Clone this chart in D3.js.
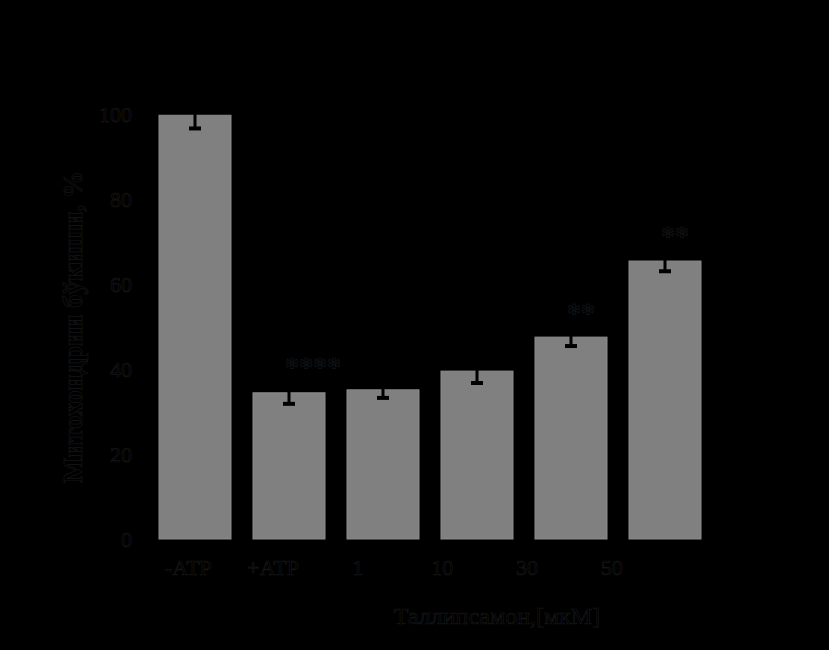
<!DOCTYPE html>
<html>
<head>
    <meta charset="utf-8">
    <title>Mitochondria swelling</title>
</head>

<style>

body {
    margin: 0;
    background: #000;
}

.bar {
    fill: #808080;
    stroke: #8c8c8c;
    stroke-width: 1px;
}

.errbar {
    stroke: #000;
    stroke-width: 3px;
}

.axis text {
    font-family: "Liberation Serif", serif;
    font-size: 22px;
    fill: #000;
    stroke: #161616;
    stroke-width: 0.7px;
}

.axis .domain, .axis line {
    stroke: #000;
}

.title {
    font-family: "Liberation Serif", serif;
    fill: #000;
    stroke: #161616;
    stroke-width: 0.7px;
}

</style>

<body>
<script src="https://d3js.org/d3.v7.min.js"></script>
<script type="text/javascript">

// Data
var categories = ["-ATP", "+ATP", "1", "10", "30", "50"];
var tickLabels = ["-АТР", "+АТР", "1", "10", "30", "50"];
var values = [99.7, 34.4, 35.1, 39.5, 47.5, 65.4];
var errors = [3.1, 2.6, 1.9, 2.8, 2.1, 2.4];
var stars = ["", "****", "", "", "**", "**"];
var yTicks = [0, 20, 40, 60, 80, 100];

var width = 829,
    height = 650;

var svg = d3.select("body").append("svg")
    .attr("width", width)
    .attr("height", height);

svg.append("rect")
    .attr("width", width)
    .attr("height", height)
    .attr("fill", "#000");

var y = d3.scaleLinear()
    .domain([0, 100])
    .range([539, 114]);

// bars
var x = d3.scaleBand()
    .domain(categories)
    .range([148, 712])
    .paddingInner(0.234)
    .paddingOuter(0.117);

// tick labels sit on their own, tighter spacing
var xLab = d3.scaleBand()
    .domain(categories)
    .range([146, 654])
    .padding(0);

var rows = categories.map(function(c, i) {
    return {cat: c, v: values[i], e: errors[i], s: stars[i]};
});

svg.selectAll(".bar")
    .data(rows)
    .enter().append("rect")
    .attr("class", "bar")
    .attr("x", function(d) { return x(d.cat); })
    .attr("width", x.bandwidth())
    .attr("y", function(d) { return y(d.v); })
    .attr("height", function(d) { return y(0) - y(d.v); });

// error bars
var eb = svg.selectAll(".eb")
    .data(rows)
    .enter().append("g")
    .attr("class", "eb")
    .attr("transform", function(d) { return "translate(" + (x(d.cat) + x.bandwidth() / 2) + ",0)"; });

eb.append("line")
    .attr("class", "errbar")
    .attr("y1", function(d) { return y(d.v + d.e); })
    .attr("y2", function(d) { return y(d.v - d.e); });

eb.append("line")
    .attr("class", "errbar")
    .attr("x1", -6).attr("x2", 6)
    .style("stroke-width", "4px")
    .attr("y1", function(d) { return y(d.v - d.e); })
    .attr("y2", function(d) { return y(d.v - d.e); });

eb.append("line")
    .attr("class", "errbar")
    .attr("x1", -6).attr("x2", 6)
    .style("stroke-width", "4px")
    .attr("y1", function(d) { return y(d.v + d.e); })
    .attr("y2", function(d) { return y(d.v + d.e); });

// significance stars
svg.selectAll(".star")
    .data(rows.filter(function(d) { return d.s; }))
    .enter().append("text")
    .attr("class", "title")
    .attr("x", function(d) { return x(d.cat) + x.bandwidth() / 2 - 4; })
    .attr("y", function(d) { return y(d.v + d.e) - 6; })
    .attr("font-size", "28px")
    .attr("font-weight", "bold")
    .attr("text-anchor", "start")
    .text(function(d) { return d.s; });

// axes
svg.append("g")
    .attr("class", "axis axis--y")
    .attr("transform", "translate(140,0)")
    .call(d3.axisLeft(y).tickValues(yTicks).tickSize(0).tickPadding(8));

svg.append("g")
    .attr("class", "axis axis--x")
    .attr("transform", "translate(0," + y(0) + ")")
    .call(d3.axisBottom(xLab).tickSize(0).tickPadding(20)
        .tickFormat(function(c, i) { return tickLabels[i]; }));

svg.selectAll(".axis .domain").remove();

// axis titles
svg.append("text")
    .attr("class", "title")
    .attr("x", 497)
    .attr("y", 624)
    .attr("text-anchor", "middle")
    .attr("font-size", "24px")
    .text("Таллипсамон,[мкМ]");

svg.append("text")
    .attr("class", "title")
    .attr("transform", "translate(82,327) rotate(-90)")
    .attr("text-anchor", "middle")
    .attr("font-size", "27px")
    .attr("font-weight", "bold")
    .text("Митохондрии бўкиши, %");

</script>
</body>
</html>
